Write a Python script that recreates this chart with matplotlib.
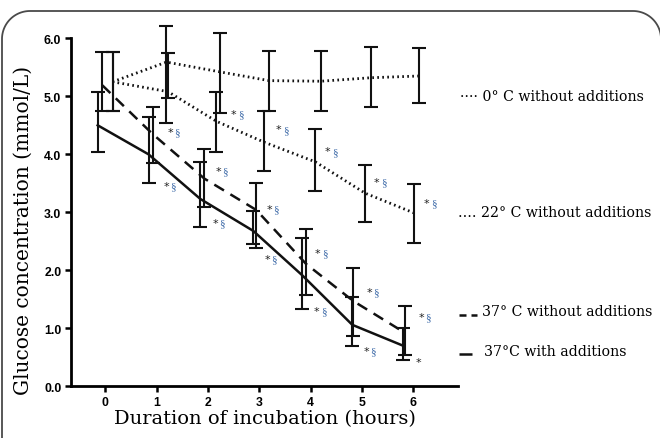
import matplotlib
matplotlib.use("Agg")
import matplotlib.pyplot as plt
from matplotlib.lines import Line2D
import numpy as np

# ---- data ----
x_add = [-0.15, 0.84, 1.85, 2.88, 3.84, 4.81, 5.80]
y_add = [4.50, 4.00, 3.23, 2.68, 1.91, 1.06, 0.70]
lo_add = [4.04, 3.50, 2.74, 2.45, 1.33, 0.69, 0.45]
hi_add = [5.07, 4.64, 3.86, 3.02, 2.56, 1.54, 1.00]

x_37 = [-0.06, 0.92, 1.93, 2.94, 3.91, 4.83, 5.84]
y_37 = [5.19, 4.35, 3.58, 3.04, 2.11, 1.47, 0.92]
lo_37 = [4.75, 3.85, 3.09, 2.38, 1.57, 0.87, 0.54]
hi_37 = [5.77, 4.81, 4.09, 3.50, 2.71, 2.04, 1.39]

x_22 = [0.14, 1.22, 2.16, 3.09, 4.09, 5.06, 6.01]
y_22 = [5.25, 5.08, 4.57, 4.21, 3.87, 3.33, 2.99]
lo_22 = [4.75, 4.97, 4.04, 3.71, 3.37, 2.83, 2.47]
hi_22 = [5.77, 5.74, 5.07, 4.75, 4.44, 3.82, 3.49]

x_0 = [0.14, 1.19, 2.24, 3.19, 4.20, 5.17, 6.11]
y_0 = [5.25, 5.59, 5.42, 5.27, 5.26, 5.32, 5.35]
lo_0 = [4.75, 4.54, 4.72, 4.75, 4.75, 4.81, 4.88]
hi_0 = [5.77, 6.22, 6.10, 5.78, 5.78, 5.85, 5.83]

xticks = [0, 1, 2, 3, 4, 5, 6]
yticks = [0.0, 1.0, 2.0, 3.0, 4.0, 5.0, 6.0]

# significance marks: (x, y, text)
marks = [
    (2.50, 4.69, "*§"), (3.38, 4.43, "*§"), (4.33, 4.05, "*§"),
    (5.29, 3.52, "*§"), (6.26, 3.16, "*§"),
    (1.26, 4.38, "*§"), (2.20, 3.71, "*§"), (3.19, 3.06, "*§"),
    (4.14, 2.30, "*§"), (5.14, 1.63, "*§"), (6.15, 1.19, "*§"),
    (1.19, 3.45, "*§"), (2.14, 2.82, "*§"), (3.15, 2.19, "*§"),
    (4.12, 1.30, "*§"), (5.08, 0.61, "*§"), (6.09, 0.42, "*"),
]

legend_labels = ["0° C without additions", "22° C without additions",
                 "37° C without additions", "37°C with additions"]

SERIF = "DejaVu Serif"

# ---- figure ----
W, H = 660, 439
fig = plt.figure(figsize=(W / 100, H / 100), dpi=100)
tf = fig.transFigure

# rounded frame drawn in pixel units (left, top, right edge just past image)
R = 28.0
L, T, Rt = 2.0, 12.0, 661.0
th = np.linspace(np.pi, np.pi / 2, 30)
left_arc_x = L + R + R * np.cos(th)
left_arc_y = T + R - R * np.sin(th)
th2 = np.linspace(np.pi / 2, 0, 30)
right_arc_x = Rt - R + R * np.cos(th2)
right_arc_y = T + R - R * np.sin(th2)
fx = np.concatenate([[L], left_arc_x, right_arc_x, [Rt]])
fy = np.concatenate([[H + 5], left_arc_y, right_arc_y, [H + 5]])
fig.lines.append(Line2D(fx / W, 1 - fy / H, transform=tf, color="#4a4a4a", lw=1.3))

ax = fig.add_axes([71 / W, 1 - 387.3 / H, (458 - 71) / W, (387.3 - 39.3) / H])
ax.set_xlim(-0.67, 6.87)
ax.set_ylim(0, 6.0)

def draw(x, y, lo, hi, ls, lw, dashes=None):
    y = np.array(y); lo = np.array(lo); hi = np.array(hi)
    ax.errorbar(x, y, yerr=[y - lo, hi - y], fmt="none", ecolor="#111111",
                elinewidth=1.5, capsize=5, capthick=1.5, clip_on=False)
    line, = ax.plot(x, y, color="#111111", lw=lw, ls=ls, clip_on=False)
    if dashes is not None:
        line.set_dashes(dashes)
    return line

draw(x_0, y_0, lo_0, hi_0, ":", 2.0, dashes=(0.6, 1.2))
draw(x_22, y_22, lo_22, hi_22, ":", 2.0, dashes=(0.6, 1.2))
draw(x_37, y_37, lo_37, hi_37, "--", 1.8, dashes=(4.5, 3.0))
draw(x_add, y_add, lo_add, hi_add, "-", 1.8)

for sp in ["top", "right"]:
    ax.spines[sp].set_visible(False)
for sp in ["left", "bottom"]:
    ax.spines[sp].set_linewidth(2.0)
ax.set_xticks(xticks)
ax.set_xticklabels([str(t) for t in xticks])
ax.set_yticks(yticks)
ax.set_yticklabels([f"{t:.1f}" for t in yticks])
ax.tick_params(axis="both", direction="out", length=4.5, width=1.8, labelsize=8.8, pad=2.5)
for lab in ax.get_xticklabels() + ax.get_yticklabels():
    lab.set_fontweight("bold")
    lab.set_fontfamily("Liberation Sans")

ax.set_xlabel("Duration of incubation (hours)", family=SERIF,
              fontsize=14, labelpad=1)
ax.set_ylabel("Glucose concentration (mmol/L)", family=SERIF, fontsize=14.5)
ax.yaxis.set_label_coords(-0.098, 0.45)

for (mx, my, mt) in marks:
    ax.text(mx, my, mt[0], fontsize=8, color="#222222", ha="center", va="center",
            family="DejaVu Sans")
    if len(mt) > 1:
        ax.annotate(mt[1], (mx, my), xytext=(5, 0), textcoords="offset points",
                    fontsize=8, color="#3d6aa8", ha="center", va="center",
                    family="Liberation Serif")

# legend-like labels
fs = 10.2
fig.text(460 / W, 1 - 97 / H, "···· " + legend_labels[0], family=SERIF,
         fontsize=fs, va="center", ha="left")
fig.text(458 / W, 1 - 213 / H, ".... " + legend_labels[1], family=SERIF,
         fontsize=fs, va="center", ha="left")
fig.lines.append(Line2D([459 / W, 466 / W], [1 - 316 / H] * 2, transform=tf,
                        color="#111111", lw=1.8, solid_capstyle="butt"))
fig.lines.append(Line2D([471 / W, 477 / W], [1 - 316 / H] * 2, transform=tf,
                        color="#111111", lw=1.8, solid_capstyle="butt"))
fig.text(482 / W, 1 - 312 / H, legend_labels[2], family=SERIF,
         fontsize=fs, va="center", ha="left")
fig.lines.append(Line2D([459 / W, 472 / W], [1 - 355 / H] * 2, transform=tf,
                        color="#111111", lw=1.8, solid_capstyle="butt"))
fig.text(484 / W, 1 - 352 / H, legend_labels[3], family=SERIF,
         fontsize=fs, va="center", ha="left")

fig.savefig("out.png", dpi=100)
